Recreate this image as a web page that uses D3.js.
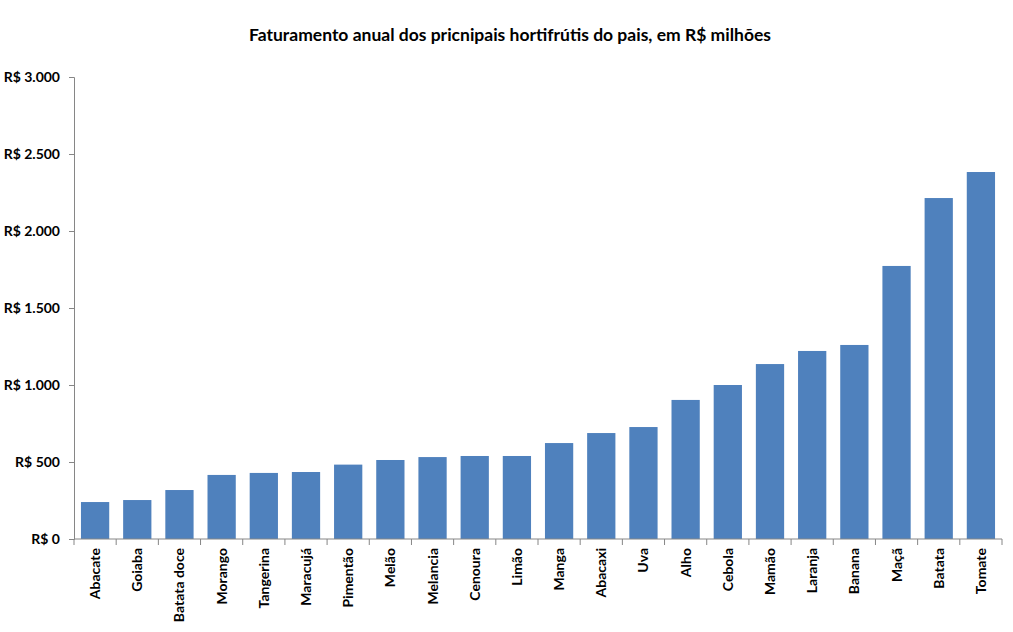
<!DOCTYPE html>
<html><head><meta charset="utf-8">
<script src="https://cdn.jsdelivr.net/npm/d3@7"></script>
<style>body{margin:0;background:#fff;} svg{display:block;}</style>
</head><body>
<script>
const categories = ["Abacate","Goiaba","Batata doce","Morango","Tangerina","Maracujá","Pimentão","Melão","Melancia","Cenoura","Limão","Manga","Abacaxi","Uva","Alho","Cebola","Mamão","Laranja","Banana","Maçã","Batata","Tomate"];
const values = [240,253,318,416,429,435,483,513,532,539,539,623,688,727,903,1000,1136,1221,1260,1773,2214,2383];
const yTicks = [0,500,1000,1500,2000,2500,3000];
const title = "Faturamento anual dos pricnipais hortifrútis do pais, em R$ milhões";

const W = 1013, H = 632;
const m = {left:74, right:11, top:77, bottom:93};
const font = "Lato, 'Open Sans', sans-serif";
const svg = d3.select("body").append("svg").attr("width",W).attr("height",H);

const x = d3.scaleBand().domain(categories).range([m.left, W-m.right]).paddingInner(0.33).paddingOuter(0.165);
const y = d3.scaleLinear().domain([0,3000]).range([H-m.bottom, m.top]);

svg.append("text").attr("x",510).attr("y",41).attr("text-anchor","middle")
  .style("font-family",font).style("font-weight","bold").style("font-size","17.5px").attr("fill","#000").text(title);

svg.selectAll("rect.bar").data(values).join("rect").attr("class","bar")
  .attr("x",(d,i)=>x(categories[i])).attr("width",x.bandwidth())
  .attr("y",d=>y(d)).attr("height",d=>y(0)-y(d)).attr("fill","#4F81BD");

const fmt = v => "R$ " + d3.format(",")(v).replace(/,/g,".");
const yAxis = svg.append("g").attr("transform",`translate(${m.left},0)`)
  .call(d3.axisLeft(y).tickValues(yTicks).tickFormat(fmt).tickSize(5).tickPadding(9));
yAxis.select(".domain").attr("stroke","#868686");
yAxis.selectAll(".tick line").attr("stroke","#868686");
yAxis.selectAll("text").style("font-family",font).style("font-weight","bold").style("font-size","14px").attr("fill","#000");

// x axis
const step = x.step();
const xg = svg.append("g").attr("transform",`translate(0,${y(0)})`);
xg.append("line").attr("x1",m.left).attr("x2",W-m.right).attr("stroke","#868686");
const bounds = d3.range(categories.length+1).map(i => x.range()[0] + i*step);
xg.selectAll("line.tk").data(bounds).join("line").attr("class","tk")
  .attr("x1",d=>d).attr("x2",d=>d).attr("y1",0).attr("y2",6).attr("stroke","#868686");
xg.selectAll("text.lbl").data(categories).join("text").attr("class","lbl")
  .attr("transform",d=>`translate(${x(d)+x.bandwidth()/2+5},9) rotate(-90)`)
  .attr("text-anchor","end")
  .style("font-family",font).style("font-weight","bold").style("font-size","14px").attr("fill","#000").text(d=>d);
</script>
</body></html>
